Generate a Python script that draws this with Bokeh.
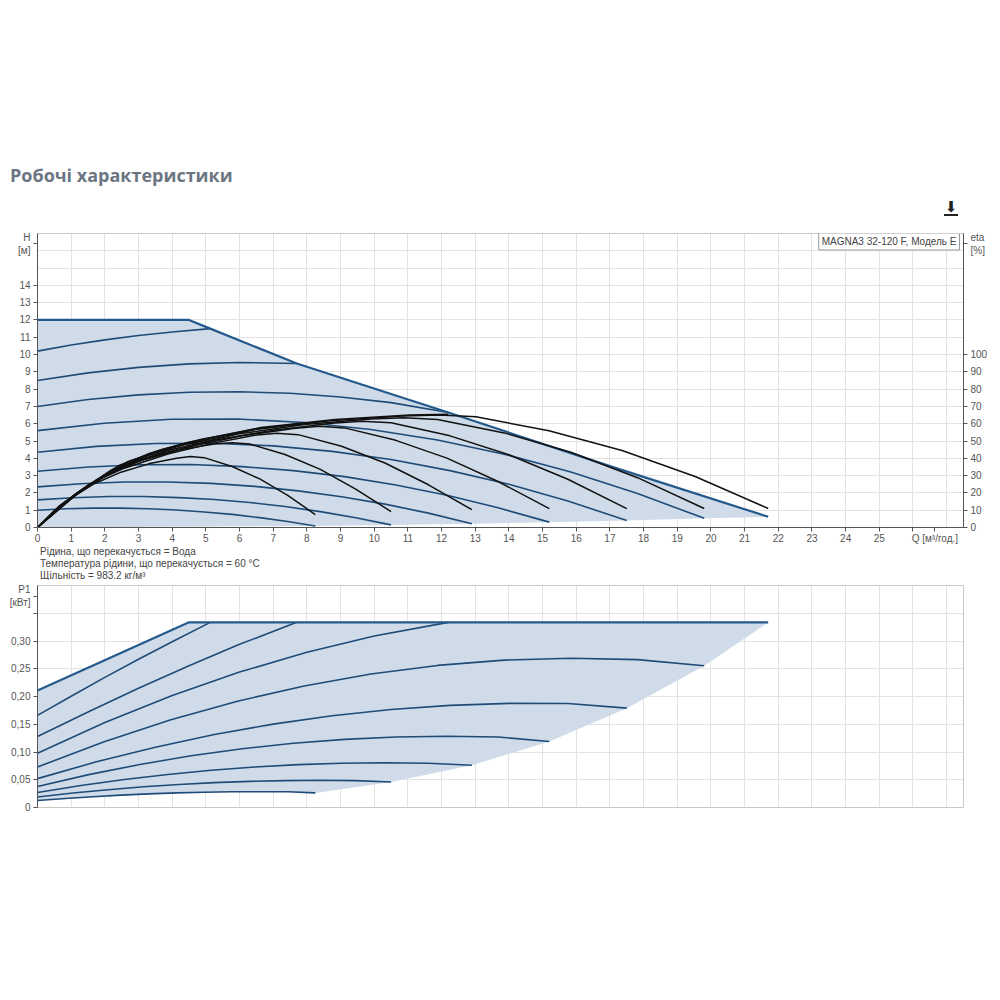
from bokeh.plotting import figure
from bokeh.models import Range1d, LinearAxis, FixedTicker, Label, Div
from bokeh.layouts import column
from bokeh.embed import file_html
from bokeh.resources import INLINE

FONT = "Liberation Sans"

# ---------------- data: head curves H [m] vs Q [m3/h] ----------------
max_q = [0, 4.5, 5.13, 7.7, 12.2, 17.0, 21.7]
max_h = [12.0, 12.0, 11.5, 9.48, 6.65, 3.55, 0.62]

s1_q = [0, 1, 2, 3, 4, 5.13]
s1_h = [10.2, 10.55, 10.85, 11.1, 11.3, 11.5]
s2_q = [0, 1.5, 3, 4.5, 6, 7.7]
s2_h = [8.5, 8.94, 9.26, 9.46, 9.54, 9.48]
s3_q = [0, 1.5, 3, 4.5, 6, 7.5, 9, 10.5, 12.2]
s3_h = [7.0, 7.4, 7.67, 7.82, 7.85, 7.76, 7.55, 7.22, 6.65]
s4_q = [0, 1.98, 3.96, 5.94, 7.92, 9.9, 11.88, 13.86, 15.84, 17.82, 19.8]
s4_h = [5.6, 6.03, 6.26, 6.27, 6.07, 5.67, 5.06, 4.24, 3.21, 1.97, 0.53]
s5_q = [0, 1.75, 3.5, 5.25, 7, 8.75, 10.5, 12.25, 14, 15.75, 17.5]
s5_h = [4.35, 4.69, 4.86, 4.87, 4.72, 4.40, 3.93, 3.29, 2.50, 1.53, 0.41]
s6_q = [0, 1.52, 3.04, 4.56, 6.08, 7.6, 9.12, 10.64, 12.16, 13.68, 15.2]
s6_h = [3.25, 3.50, 3.63, 3.64, 3.52, 3.29, 2.94, 2.46, 1.87, 1.14, 0.31]
s7_q = [0, 1.29, 2.58, 3.87, 5.16, 6.45, 7.74, 9.03, 10.32, 11.61, 12.9]
s7_h = [2.35, 2.53, 2.63, 2.63, 2.55, 2.38, 2.12, 1.78, 1.35, 0.83, 0.22]
s8_q = [0, 1.05, 2.1, 3.15, 4.2, 5.25, 6.3, 7.35, 8.4, 9.45, 10.5]
s8_h = [1.6, 1.72, 1.79, 1.79, 1.73, 1.62, 1.45, 1.21, 0.92, 0.56, 0.15]
s9_q = [0, 0.83, 1.65, 2.48, 3.3, 4.13, 4.95, 5.78, 6.6, 7.43, 8.25]
s9_h = [1.0, 1.08, 1.12, 1.12, 1.08, 1.01, 0.90, 0.76, 0.57, 0.35, 0.09]

# ---------------- data: efficiency curves eta [%] ----------------
eg_q = [0, 1.09, 2.17, 3.26, 4.34, 6.51, 8.68, 10.85, 11.94, 13.02, 15.19, 17.36, 19.53, 21.7]
eg = [0, 18.5, 32.5, 41.5, 47.8, 56.8, 61.7, 64.5, 65.0, 64.0, 56.0, 44.5, 29.5, 11.0]
ef_q = [0, 0.99, 1.98, 2.97, 3.96, 5.94, 7.92, 9.9, 10.89, 11.88, 13.86, 15.84, 17.82, 19.8]
ef = [0, 17.0, 30.2, 38.8, 45.0, 54.0, 59.5, 62.8, 63.5, 62.5, 54.7, 43.5, 28.8, 11.0]
ee_q = [0, 0.88, 1.75, 2.63, 3.5, 5.25, 7.0, 8.75, 9.63, 10.5, 12.25, 14.0, 15.75, 17.5]
ee = [0, 15.5, 27.5, 35.7, 41.8, 50.5, 56.3, 60.3, 61.5, 60.6, 53.0, 42.1, 27.9, 10.9]
ed_q = [0, 0.76, 1.52, 2.28, 3.04, 4.56, 6.08, 7.6, 8.36, 9.12, 10.64, 12.16, 13.68, 15.2]
ed = [0, 14.0, 24.8, 32.3, 38.5, 47.0, 53.0, 57.3, 58.5, 57.6, 50.4, 40.1, 26.6, 10.9]
ec_q = [0, 0.65, 1.29, 1.94, 2.58, 3.87, 5.16, 6.45, 7.1, 7.74, 9.03, 10.32, 11.61, 12.9]
ec = [0, 12.5, 21.5, 28.7, 34.3, 42.5, 48.5, 53.3, 54.5, 53.7, 47.0, 37.3, 24.7, 10.3]
eb_q = [0, 0.5, 1.05, 2.1, 3.15, 4.2, 5.25, 5.78, 6.3, 7.35, 8.4, 9.45, 10.5]
eb = [0, 9.7, 18.0, 31.0, 39.5, 45.0, 48.3, 49.0, 48.3, 42.2, 33.6, 22.2, 9.2]
ea_q = [0, 0.5, 1.0, 1.65, 2.48, 3.3, 4.13, 4.54, 4.95, 5.78, 6.6, 7.43, 8.25]
ea = [0, 9.5, 17.0, 25.0, 32.0, 36.8, 40.0, 41.0, 40.4, 35.3, 28.1, 18.6, 7.5]
et3_q = [0, 1.1, 2.21, 3.32, 4.42, 6.63, 8.84, 11.05, 12.2]
et3 = [0, 19.0, 33.5, 42.8, 49.0, 57.8, 62.5, 65.0, 65.5]
et2_q = [0, 1.22, 2.44, 3.66, 4.88, 6.5, 7.7]
et2 = [0, 20.5, 36.0, 45.0, 51.0, 57.0, 59.8]
et1_q = [0, 1.34, 2.67, 4.0, 5.13]
et1 = [0, 22.0, 38.0, 46.5, 51.0]

# ---------------- data: power P1 [kW] ----------------
pmax_q = [0, 4.5, 21.7]
pmax = [0.2107, 0.3336, 0.3336]
p1_q = [0, 1, 2, 3, 4, 5.13]
p1v = [0.166, 0.2005, 0.2345, 0.267, 0.2985, 0.3336]
p2_q = [0, 1.5, 3, 4.5, 6, 7.7]
p2v = [0.128, 0.1722, 0.2147, 0.2553, 0.2940, 0.3336]
p3_q = [0, 2, 4, 6, 8, 10, 12.2]
p3v = [0.0977, 0.153, 0.2018, 0.244, 0.2797, 0.3089, 0.3336]
p4v = [0.073, 0.1186, 0.158, 0.1916, 0.219, 0.2405, 0.256, 0.2655, 0.269, 0.2665, 0.2555]
p5v = [0.052, 0.0823, 0.1087, 0.1314, 0.1502, 0.1653, 0.1765, 0.184, 0.1876, 0.1874, 0.179]
p6v = [0.038, 0.0592, 0.0776, 0.0932, 0.1059, 0.1158, 0.1228, 0.1271, 0.1285, 0.1271, 0.119]
p7v = [0.027, 0.0395, 0.0504, 0.0596, 0.0671, 0.073, 0.0772, 0.0797, 0.0805, 0.0797, 0.076]
p8v = [0.019, 0.026, 0.0321, 0.0373, 0.0415, 0.0448, 0.0471, 0.0485, 0.049, 0.0485, 0.046]
p9v = [0.0125, 0.0163, 0.0195, 0.0223, 0.0245, 0.0263, 0.0275, 0.0283, 0.0285, 0.0283, 0.0263]

# ---------------- ticks and texts ----------------
x_ticks = list(range(0, 27)) + [26.65]
x_labels = {26: "", 26.65: "Q [м³/год.]"}
h_ticks = list(range(0, 15)) + [16.4]
h_labels = {16.4: "H\n[м]"}
eta_ticks = list(range(0, 101, 10)) + [164]
eta_labels = {164: "eta\n[%]"}
p_ticks = [0, 0.05, 0.10, 0.15, 0.20, 0.25, 0.30, 0.35, 0.381]
p_labels = {0: "0", 0.05: "0,05", 0.10: "0,10", 0.15: "0,15", 0.20: "0,20",
            0.25: "0,25", 0.30: "0,30", 0.35: "", 0.381: "P1\n[кВт]"}
title_text = "Робочі характеристики"
model_text = "MAGNA3 32-120 F, Модель E"
notes = ["Рідина, що перекачується = Вода",
         "Температура рідини, що перекачується = 60 °C",
         "Щільність = 983.2 кг/м³"]

FILL = "#cfdbe8"
BLUE = "#1f4b78"
MAXBLUE = "#24598c"
BLACK = "#111111"
GRID = "#e2e2e2"
AXIS = "#555555"
TXT = "#555555"


def style_axis(ax, standoff=3):
    ax.axis_line_color = AXIS
    ax.major_tick_line_color = AXIS
    ax.minor_tick_line_color = None
    ax.major_tick_out = 4
    ax.major_tick_in = 0
    ax.major_label_standoff = standoff
    ax.major_label_text_font = FONT
    ax.major_label_text_font_size = "10px"
    ax.major_label_text_color = TXT


# ================= title block =================
title_div = Div(
    text=(f'<div style="margin:162px 0 0 10px;font-family:\'Open Sans\';font-weight:bold;'
          f'font-size:18px;line-height:26px;color:#6b7682;white-space:nowrap">{title_text}</div>'
          '<div style="margin:13px 0 0 944px;width:14px;font-family:\'DejaVu Sans\';font-size:15px;'
          'line-height:13px;color:#222;border-bottom:2px solid #222;text-align:center">⬇</div>'),
    width=992, height=222, margin=0)

# ================= top chart =================
p = figure(frame_width=926, frame_height=294, x_range=Range1d(0, 27.5), y_range=Range1d(0, 17),
           output_backend="svg", toolbar_location=None,
           min_border_left=37, min_border_right=29, min_border_top=11, min_border_bottom=17,
           outline_line_color="#c8c8c8", background_fill_color="white", border_fill_color="white")
p.extra_y_ranges = {"eta": Range1d(0, 170)}

p.xaxis.ticker = FixedTicker(ticks=x_ticks)
p.xaxis.major_label_overrides = x_labels
p.yaxis.ticker = FixedTicker(ticks=h_ticks)
p.yaxis.major_label_overrides = h_labels
style_axis(p.xaxis[0], standoff=1)
style_axis(p.yaxis[0])
ax_r = LinearAxis(y_range_name="eta", ticker=FixedTicker(ticks=eta_ticks),
                  major_label_overrides=eta_labels)
style_axis(ax_r)
p.add_layout(ax_r, "right")

p.xgrid.ticker = FixedTicker(ticks=list(range(0, 28)))
p.ygrid.ticker = FixedTicker(ticks=list(range(0, 18)))
p.xgrid.grid_line_color = GRID
p.ygrid.grid_line_color = GRID

end_q = [s4_q[-1], s5_q[-1], s6_q[-1], s7_q[-1], s8_q[-1], s9_q[-1]]
end_h = [s4_h[-1], s5_h[-1], s6_h[-1], s7_h[-1], s8_h[-1], s9_h[-1]]
p.patch([0] + max_q + end_q + [0], [0] + max_h + end_h + [0], fill_color=FILL, line_color=None)

for qq, hh in [(s1_q, s1_h), (s2_q, s2_h), (s3_q, s3_h), (s4_q, s4_h), (s5_q, s5_h),
               (s6_q, s6_h), (s7_q, s7_h), (s8_q, s8_h), (s9_q, s9_h)]:
    p.line(qq, hh, line_color=BLUE, line_width=1.6)
p.line(max_q, max_h, line_color=MAXBLUE, line_width=2.2)

for qq, ee_ in [(eg_q, eg), (ef_q, ef), (ee_q, ee), (ed_q, ed), (ec_q, ec), (eb_q, eb),
                (ea_q, ea), (et3_q, et3), (et2_q, et2), (et1_q, et1)]:
    p.line(qq, ee_, y_range_name="eta", line_color=BLACK, line_width=1.5)

p.add_layout(Label(x=922, y=286, x_units="screen", y_units="screen", text=model_text,
                   text_font=FONT, text_font_size="10px", text_align="right",
                   text_baseline="middle", text_color="#444444",
                   background_fill_color="white", border_line_color="#999999", padding=3))

# ================= notes =================
notes_html = "".join(
    f'<div style="font-family:\'Liberation Sans\';font-size:10px;line-height:12px;'
    f'color:#444;white-space:nowrap;margin-left:40px">{t}</div>' for t in notes)
notes_div = Div(text=notes_html, width=992, height=33, margin=0)

# ================= bottom chart =================
q = figure(frame_width=926, frame_height=222, x_range=Range1d(0, 27.5), y_range=Range1d(0, 0.4),
           output_backend="svg", toolbar_location=None,
           min_border_left=37, min_border_right=29, min_border_top=6, min_border_bottom=12,
           outline_line_color="#c8c8c8", background_fill_color="white", border_fill_color="white")
q.xaxis.visible = False
q.yaxis.ticker = FixedTicker(ticks=p_ticks)
q.yaxis.major_label_overrides = p_labels
style_axis(q.yaxis[0])
q.xgrid.ticker = FixedTicker(ticks=list(range(0, 28)))
q.ygrid.ticker = FixedTicker(ticks=p_ticks[:-1])
q.xgrid.grid_line_color = GRID
q.ygrid.grid_line_color = GRID

pend_q = [s4_q[-1], s5_q[-1], s6_q[-1], s7_q[-1], s8_q[-1]]
pend = [p4v[-1], p5v[-1], p6v[-1], p7v[-1], p8v[-1]]
q.patch(pmax_q + pend_q + s9_q[::-1], pmax + pend + p9v[::-1], fill_color=FILL, line_color=None)

for qq, pv in [(p1_q, p1v), (p2_q, p2v), (p3_q, p3v), (s4_q, p4v), (s5_q, p5v),
               (s6_q, p6v), (s7_q, p7v), (s8_q, p8v), (s9_q, p9v)]:
    q.line(qq, pv, line_color=BLUE, line_width=1.6)
q.line(pmax_q, pmax, line_color=MAXBLUE, line_width=2.2)

layout = column(title_div, p, notes_div, q)
open("out.html", "w").write(file_html(layout, INLINE))
